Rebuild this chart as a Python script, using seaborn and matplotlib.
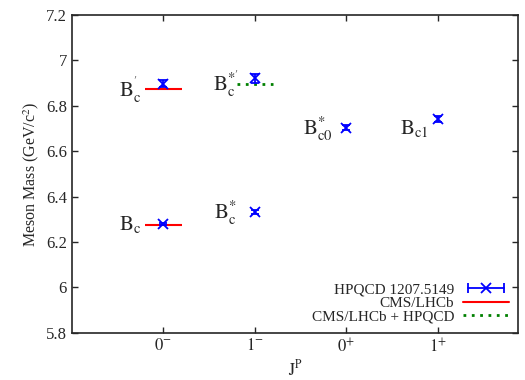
import numpy as np
import matplotlib
matplotlib.use("Agg")
import matplotlib.pyplot as plt
from matplotlib.lines import Line2D
from matplotlib.legend_handler import HandlerLine2D
import seaborn as sns

# J^P slots on the x axis
jp_labels = ["$0^{-}$", "$1^{-}$", "$0^{+}$", "$1^{+}$"]
jp_pos = [0, 1, 2, 3]

# HPQCD 1207.5149 lattice predictions (GeV/c^2)
hpqcd_x = [0, 1, 0, 1, 2, 3]
hpqcd_mass = [6.278, 6.332, 6.896, 6.921, 6.704, 6.742]
hpqcd_err = [0.005, 0.009, 0.015, 0.020, 0.013, 0.013]

# CMS/LHCb measurements
exp_x = [0, 0]
exp_mass = [6.2749, 6.872]

# CMS/LHCb + HPQCD estimate
comb_x = [1]
comb_mass = [6.897]

# state names
state_names = [r"$\mathrm{B_c}$", r"$\mathrm{B_c^{*}}$", r"$\mathrm{B_c^{'}}$",
               r"$\mathrm{B_c^{*'}}$", r"$\mathrm{B_{c0}^{*}}$", r"$\mathrm{B_{c1}}$"]
name_x = [-0.36, 0.68, -0.36, 0.68, 1.69, 2.74]
name_y = [6.275, 6.33, 6.87, 6.895, 6.70, 6.70]

sns.set_style("ticks")
plt.rcParams["font.family"] = ["Liberation Serif", "DejaVu Serif"]
plt.rcParams["mathtext.fontset"] = "stix"

fig = plt.figure(figsize=(5.25, 3.8), dpi=100)
ax = fig.add_axes([0.137, 0.124, 0.850, 0.837])

half = 0.2
ax.hlines(exp_mass, np.array(exp_x) - half, np.array(exp_x) + half,
          colors="red", lw=1.5)
ax.hlines(comb_mass, np.array(comb_x) - half, np.array(comb_x) + half,
          colors="green", lw=2, linestyles=(0, (1, 2)))
ax.errorbar(hpqcd_x, hpqcd_mass, yerr=hpqcd_err, fmt="x", color="blue",
            ms=7, mew=1.3, elinewidth=1.3, capsize=3, capthick=1.3,
            ecolor="blue", zorder=5)

for nm, xx, yy in zip(state_names, name_x, name_y):
    ax.text(xx, yy, nm, fontsize=15, ha="center", va="center")

ax.set_xlim(-1, 3.88)
ax.set_ylim(5.8, 7.2)
ax.set_xticks(jp_pos)
ax.set_xticklabels(jp_labels)
ax.set_yticks([5.8, 6.0, 6.2, 6.4, 6.6, 6.8, 7.0, 7.2])
ax.set_yticklabels(["5.8", "6", "6.2", "6.4", "6.6", "6.8", "7", "7.2"])
ax.tick_params(direction="in", top=True, right=True, length=4, labelsize=12, width=1)
for s in ax.spines.values():
    s.set_linewidth(1.2)
ax.set_xlabel(r"$\mathrm{J^P}$", fontsize=12, labelpad=2)
ax.set_ylabel(r"Meson Mass (GeV/c$^{2}$)", fontsize=11.5)

# legend handles drawn gnuplot style
cap_line = Line2D([], [], color="blue", lw=1.3, marker="|", ms=7, mew=1.3)
x_mark = Line2D([], [], color="blue", ls="", marker="x", ms=7, mew=1.3)
red_line = Line2D([], [], color="red", lw=1.5)
green_line = Line2D([], [], color="green", lw=2, ls=(0, (1, 2)))
ax.legend([(cap_line, x_mark), red_line, green_line],
          ["HPQCD 1207.5149", "CMS/LHCb", "CMS/LHCb + HPQCD"],
          handler_map={cap_line: HandlerLine2D(numpoints=2)},
          loc="lower right", bbox_to_anchor=(1.0, 0.0),
          markerfirst=False, frameon=False, fontsize=11,
          handlelength=3.0, labelspacing=0.0, borderaxespad=0.2, handletextpad=0.6)

fig.savefig("out.png", dpi=100)
